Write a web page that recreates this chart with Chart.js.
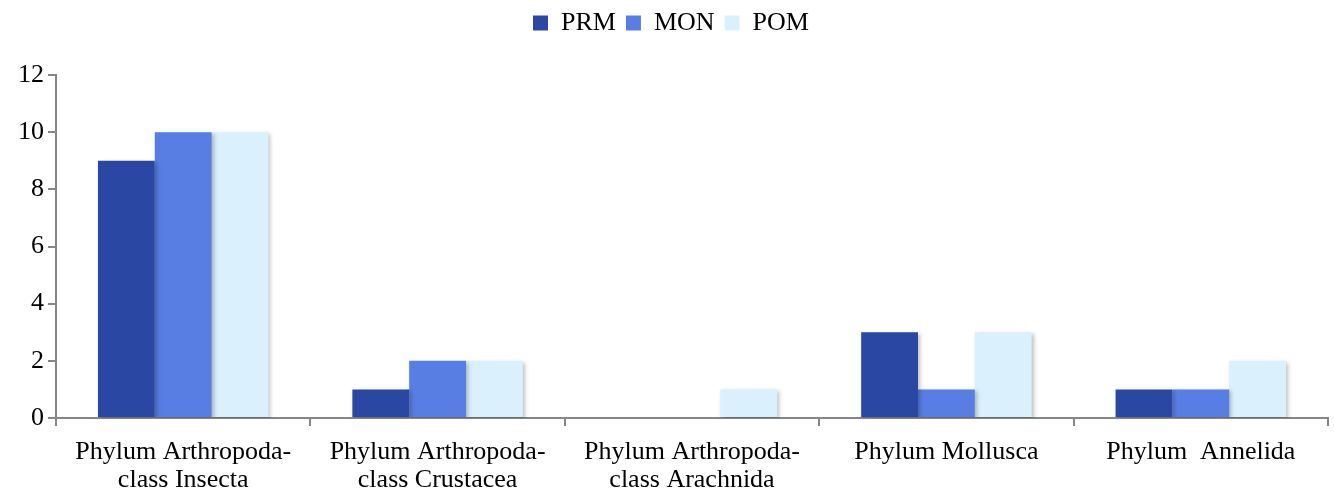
<!DOCTYPE html>
<html>
<head>
<meta charset="utf-8">
<script src="https://cdn.jsdelivr.net/npm/chart.js@4"></script>
<style>
  html, body { margin: 0; padding: 0; background: #fff; }
  #wrap { width: 1334px; height: 490px; }
</style>
</head>
<body>
<div id="wrap"><canvas id="chart"></canvas></div>
<script>
// categorias e valores
const categories = [
  ['Phylum Arthropoda-', 'class Insecta'],
  ['Phylum Arthropoda-', 'class Crustacea'],
  ['Phylum Arthropoda-', 'class Arachnida'],
  'Phylum Mollusca',
  'Phylum  Annelida'
];
const prm = [9, 1, 0, 3, 1];
const mon = [10, 2, 0, 1, 1];
const pom = [10, 2, 1, 3, 2];
const yTicks = [0, 2, 4, 6, 8, 10, 12];

const axisColor = '#868686';
const font = { family: '"Liberation Serif", "Times New Roman", serif', size: 26, lineHeight: 1.08 };

// sombra leve nas barras
const shadowPlugin = {
  id: 'barShadow',
  beforeDatasetsDraw(chart) {
    const c = chart.ctx;
    c.save();
    c.shadowColor = 'rgba(0,0,0,0.25)';
    c.shadowBlur = 4;
    c.shadowOffsetX = 2;
    c.shadowOffsetY = 2;
  },
  afterDatasetsDraw(chart) {
    chart.ctx.restore();
  }
};

// espaco extra abaixo da legenda
const legendSpace = {
  id: 'legendSpace',
  beforeInit(chart) {
    const orig = chart.legend.fit;
    chart.legend.fit = function () {
      orig.bind(chart.legend)();
      this.height = 75;
    };
  }
};

const ctx = document.getElementById('chart').getContext('2d');
const chart = new Chart(ctx, {
  type: 'bar',
  data: {
    labels: categories,
    datasets: [
      { label: 'PRM', data: prm, backgroundColor: '#2A48A3' },
      { label: 'MON', data: mon, backgroundColor: '#587EE3' },
      { label: 'POM', data: pom, backgroundColor: '#DAF0FD' }
    ]
  },
  options: {
    responsive: true,
    maintainAspectRatio: false,
    animation: false,
    layout: { padding: { left: 14, right: 6, top: 0, bottom: 0 } },
    datasets: {
      bar: { categoryPercentage: 0.67, barPercentage: 1.0 }
    },
    plugins: {
      legend: {
        position: 'top',
        labels: {
          font: { family: font.family, size: 26 },
          color: '#000',
          boxWidth: 15,
          boxHeight: 15,
          padding: 10
        }
      },
      tooltip: { enabled: false }
    },
    scales: {
      x: {
        afterFit(axis) { axis.height = 72; },
        grid: {
          drawOnChartArea: false,
          color: axisColor,
          tickLength: 8,
          lineWidth: 2
        },
        border: { color: axisColor, width: 2 },
        ticks: { font: font, color: '#000', maxRotation: 0, autoSkip: false, padding: 12 }
      },
      y: {
        min: 0,
        max: 12,
        afterBuildTicks(axis) { axis.ticks = yTicks.map(v => ({ value: v })); },
        grid: {
          drawOnChartArea: false,
          color: axisColor,
          tickLength: 8,
          lineWidth: 2
        },
        border: { color: axisColor, width: 2 },
        ticks: { font: font, color: '#000', padding: 4 }
      }
    }
  },
  plugins: [shadowPlugin, legendSpace]
});
</script>
</body>
</html>
